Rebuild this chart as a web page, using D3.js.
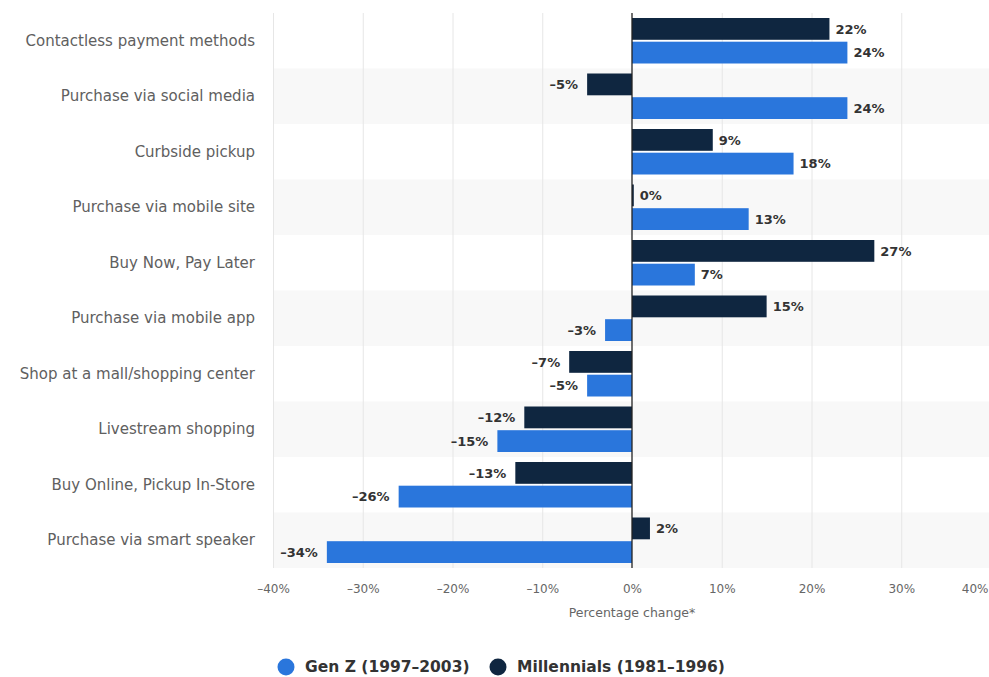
<!DOCTYPE html>
<html>
<head>
<meta charset="utf-8">
<script src="https://cdn.jsdelivr.net/npm/d3@7"></script>
<style>
  html, body { margin: 0; padding: 0; background: #fff; }
  svg { display: block; font-family: "DejaVu Sans", Verdana, sans-serif; }
</style>
</head>
<body>
<svg id="chart" width="989" height="677"></svg>
<script>
const categories = [
  "Contactless payment methods",
  "Purchase via social media",
  "Curbside pickup",
  "Purchase via mobile site",
  "Buy Now, Pay Later",
  "Purchase via mobile app",
  "Shop at a mall/shopping center",
  "Livestream shopping",
  "Buy Online, Pickup In-Store",
  "Purchase via smart speaker"
];
const seriesNames = ["Millennials (1981–1996)", "Gen Z (1997–2003)"];
const millennials = [22, -5, 9, 0.2, 27, 15, -7, -12, -13, 2];
const genZ = [24, 24, 18, 13, 7, -3, -5, -15, -26, -34];
const xTicks = [-40, -30, -20, -10, 0, 10, 20, 30, 40];
const axisTitle = "Percentage change*";
const legendOrder = ["Gen Z (1997–2003)", "Millennials (1981–1996)"];
const colors = { "Gen Z (1997–2003)": "#2a76dc", "Millennials (1981–1996)": "#0f2640" };

const svg = d3.select("#chart");
const plot = { left: 273, right: 991, top: 13, bottom: 568 };

const x = d3.scaleLinear().domain([-40, 40]).range([plot.left, plot.right]);
const y = d3.scaleBand().domain(categories).range([plot.top, plot.bottom]);
const ySub = d3.scaleBand().domain(seriesNames).range([5, y.bandwidth() - 5]).paddingInner(0.08);

const fmt = v => {
  const r = Math.round(v);
  return (r < 0 ? "–" + Math.abs(r) : String(Math.abs(r))) + "%";
};

// alternating bands
svg.append("g").selectAll("rect").data(categories.filter((c, i) => i % 2 === 1)).join("rect")
  .attr("x", plot.left).attr("width", 989 - plot.left)
  .attr("y", d => y(d)).attr("height", y.bandwidth())
  .attr("fill", "#f8f8f8");

// gridlines
svg.append("g").selectAll("line").data(xTicks.filter(t => t !== 0)).join("line")
  .attr("x1", d => x(d) + 0.5).attr("x2", d => x(d) + 0.5)
  .attr("y1", plot.top).attr("y2", plot.bottom)
  .attr("stroke", "#e6e6e6").attr("stroke-width", 1);

// bars
const rows = categories.map((c, i) => ({ cat: c, values: [
  { s: seriesNames[0], v: millennials[i] },
  { s: seriesNames[1], v: genZ[i] }
]}));
const flat = rows.flatMap(r => r.values.map(d => ({ cat: r.cat, ...d })));

svg.append("g").selectAll("rect").data(flat).join("rect")
  .attr("x", d => x(Math.min(0, d.v)))
  .attr("width", d => Math.abs(x(d.v) - x(0)))
  .attr("y", d => y(d.cat) + ySub(d.s))
  .attr("height", ySub.bandwidth())
  .attr("fill", d => colors[d.s]);

// zero line
svg.append("line")
  .attr("x1", x(0)).attr("x2", x(0))
  .attr("y1", plot.top).attr("y2", plot.bottom)
  .attr("stroke", "#222").attr("stroke-width", 1.3);

// data labels
svg.append("g").selectAll("text").data(flat).join("text")
  .attr("x", d => d.v >= 0 ? x(d.v) + 6 : x(d.v) - 9)
  .attr("y", d => y(d.cat) + ySub(d.s) + ySub.bandwidth() / 2)
  .attr("dy", "0.36em")
  .attr("text-anchor", d => d.v >= 0 ? "start" : "end")
  .attr("font-size", 13).attr("font-weight", "bold")
  .attr("fill", "#333")
  .text(d => fmt(d.v));

// category labels
svg.append("g").selectAll("text").data(categories).join("text")
  .attr("x", 255)
  .attr("y", d => y(d) + y.bandwidth() / 2)
  .attr("dy", "0.33em")
  .attr("text-anchor", "end")
  .attr("font-size", 15)
  .attr("fill", "#606060")
  .text(d => d);

// x axis
const xAxis = d3.axisBottom(x).tickValues(xTicks).tickSize(0).tickPadding(0)
  .tickFormat(d => (d < 0 ? "–" + Math.abs(d) : d) + "%");
const gx = svg.append("g").attr("transform", `translate(0, ${plot.bottom})`).call(xAxis);
gx.select(".domain").remove();
gx.selectAll("text")
  .attr("y", 25).attr("dy", 0)
  .attr("x", d => d === 40 ? -3 : 0)
  .attr("font-size", 12).attr("font-family", "DejaVu Sans, sans-serif")
  .attr("fill", "#666")
  .attr("text-anchor", d => d === 40 ? "end" : "middle");

svg.append("text")
  .attr("x", (plot.left + plot.right) / 2).attr("y", 617)
  .attr("text-anchor", "middle")
  .attr("font-size", 12.5).attr("fill", "#666")
  .text(axisTitle);

// legend
const legendX = [286, 498];
const lg = svg.append("g").selectAll("g").data(legendOrder).join("g")
  .attr("transform", (d, i) => `translate(${legendX[i]}, 667)`);
lg.append("circle").attr("r", 8.5).attr("fill", d => colors[d]);
lg.append("text").attr("x", 19).attr("dy", "0.35em")
  .attr("font-size", 15.5).attr("font-weight", "bold").attr("fill", "#333")
  .text(d => d);
</script>
</body>
</html>
